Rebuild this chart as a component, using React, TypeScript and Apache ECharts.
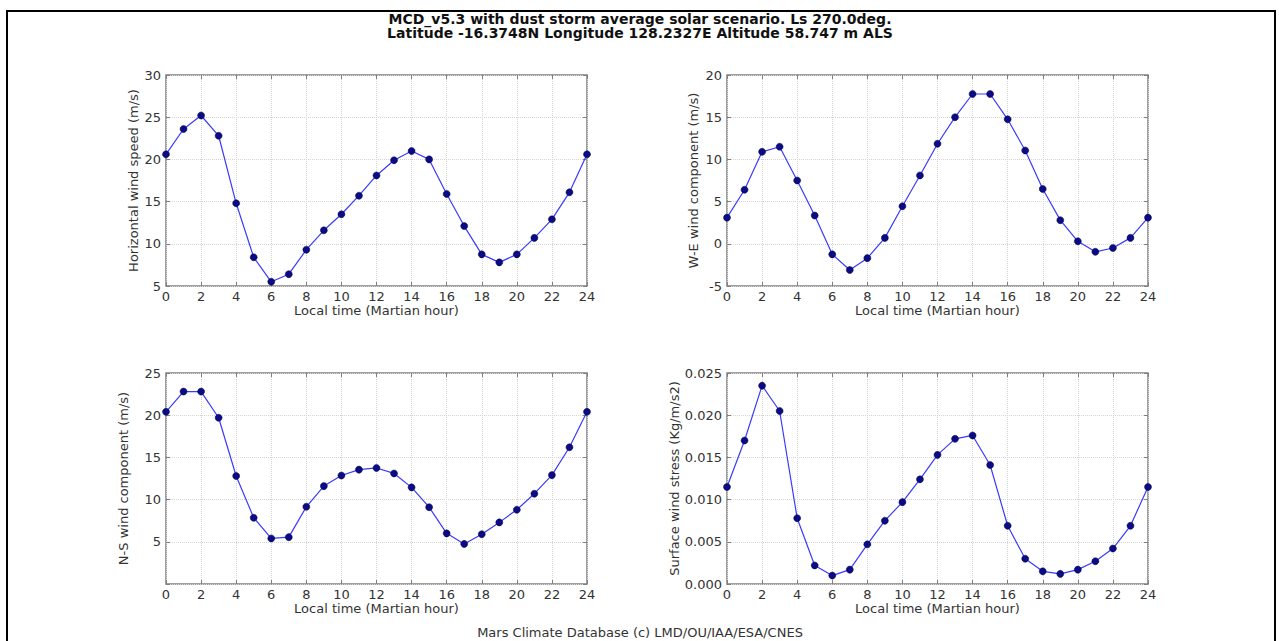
import React, { useEffect, useRef } from "react";
import * as echarts from "echarts";

const hours = [0, 1, 2, 3, 4, 5, 6, 7, 8, 9, 10, 11, 12, 13, 14, 15, 16, 17, 18, 19, 20, 21, 22, 23, 24];
const horizontalSpeed = [20.6, 23.6, 25.2, 22.8, 14.8, 8.4, 5.5, 6.4, 9.3, 11.6, 13.5, 15.7, 18.1, 19.9, 21.0, 20.0, 15.9, 12.1, 8.75, 7.8, 8.75, 10.7, 12.9, 16.1, 20.6];
const weComponent = [3.1, 6.4, 10.9, 11.5, 7.5, 3.35, -1.25, -3.1, -1.7, 0.7, 4.45, 8.1, 11.85, 15.0, 17.75, 17.75, 14.75, 11.05, 6.5, 2.8, 0.3, -0.95, -0.5, 0.7, 3.1];
const nsComponent = [20.4, 22.8, 22.8, 19.7, 12.8, 7.85, 5.4, 5.55, 9.15, 11.6, 12.85, 13.55, 13.75, 13.1, 11.45, 9.1, 6.0, 4.75, 5.9, 7.3, 8.8, 10.7, 12.9, 16.2, 20.4];
const surfaceStress = [0.0115, 0.0170, 0.0235, 0.0205, 0.0078, 0.0022, 0.0010, 0.0017, 0.0047, 0.0075, 0.0097, 0.0124, 0.0153, 0.0172, 0.0176, 0.0141, 0.0069, 0.0030, 0.0015, 0.0012, 0.0017, 0.0027, 0.0042, 0.0069, 0.0115];

const titleLines = [
  "MCD_v5.3 with dust storm average solar scenario. Ls 270.0deg.",
  "Latitude -16.3748N Longitude 128.2327E Altitude 58.747 m ALS",
];
const footerText = "Mars Climate Database (c) LMD/OU/IAA/ESA/CNES";
const xAxisName = "Local time (Martian hour)";
const yAxisNames = [
  "Horizontal wind speed (m/s)",
  "W-E wind component (m/s)",
  "N-S wind component (m/s)",
  "Surface wind stress (Kg/m/s2)",
];

const FONT = "DejaVu Sans";
const FS = 13;
const TEXT_COLOR = "#333";
const FRAME = "#808080";
const GRID_LINE = "#d4d4d4";

const panels = [
  { values: horizontalSpeed, min: 5, max: 30, interval: 5, left: 166, top: 75, nameGap: 26, hideZero: false, decimals: 0 },
  { values: weComponent, min: -5, max: 20, interval: 5, left: 727, top: 75, nameGap: 27, hideZero: false, decimals: 0 },
  { values: nsComponent, min: 0, max: 25, interval: 5, left: 166, top: 373, nameGap: 36, hideZero: true, decimals: 0 },
  { values: surfaceStress, min: 0, max: 0.025, interval: 0.005, left: 727, top: 373, nameGap: 46, hideZero: false, decimals: 3 },
];

export default function App() {
  const ref = useRef<HTMLDivElement>(null);

  useEffect(() => {
    if (!ref.current) return;
    const chart = echarts.init(ref.current, null, { renderer: "svg" });

    const grids: any[] = [];
    const xAxes: any[] = [];
    const yAxes: any[] = [];
    const series: any[] = [];
    const tick = { show: true, inside: true, length: 4, lineStyle: { color: FRAME } };

    panels.forEach((p, i) => {
      grids.push({
        left: p.left,
        top: p.top,
        width: 421,
        height: 211,
        show: true,
        borderColor: FRAME,
        borderWidth: 1.5,
        backgroundColor: "#fff",
      });
      xAxes.push({
        type: "value",
        gridIndex: i,
        position: "bottom",
        min: 0,
        max: 24,
        interval: 2,
        name: xAxisName,
        nameLocation: "middle",
        nameGap: 17,
        nameTextStyle: { fontFamily: FONT, fontSize: FS, color: TEXT_COLOR },
        axisLine: { show: false, onZero: false },
        axisTick: tick,
        axisLabel: { fontFamily: FONT, fontSize: FS, color: TEXT_COLOR, margin: 4 },
        splitLine: { show: true, lineStyle: { color: GRID_LINE, type: "dotted", width: 1 } },
      });
      xAxes.push({
        type: "value",
        gridIndex: i,
        position: "top",
        min: 0,
        max: 24,
        interval: 2,
        axisLine: { show: false, onZero: false },
        axisTick: tick,
        axisLabel: { show: false },
        splitLine: { show: false },
      });
      yAxes.push({
        type: "value",
        gridIndex: i,
        position: "left",
        min: p.min,
        max: p.max,
        interval: p.interval,
        name: yAxisNames[i],
        nameLocation: "middle",
        nameGap: p.nameGap,
        nameTextStyle: { fontFamily: FONT, fontSize: FS, color: TEXT_COLOR },
        axisLine: { show: false, onZero: false },
        axisTick: tick,
        axisLabel: {
          fontFamily: FONT,
          fontSize: FS,
          color: TEXT_COLOR,
          margin: 5,
          formatter: (v: number) => {
            if (p.hideZero && Math.abs(v) < 1e-9) return "";
            return p.decimals > 0 ? v.toFixed(p.decimals) : String(Math.round(v));
          },
        },
        splitLine: { show: true, lineStyle: { color: GRID_LINE, type: "dotted", width: 1 } },
      });
      yAxes.push({
        type: "value",
        gridIndex: i,
        position: "right",
        min: p.min,
        max: p.max,
        interval: p.interval,
        axisLine: { show: false, onZero: false },
        axisTick: tick,
        axisLabel: { show: false },
        splitLine: { show: false },
      });
      series.push({
        type: "line",
        xAxisIndex: i * 2,
        yAxisIndex: i * 2,
        data: hours.map((h, k) => [h, p.values[k]]),
        symbol: "circle",
        symbolSize: 7,
        clip: true,
        lineStyle: { color: "#3a3aff", width: 1.2 },
        itemStyle: { color: "#0b0b85", borderColor: "#000040", borderWidth: 0.5 },
        z: 3,
      });
    });

    chart.setOption({
      animation: false,
      backgroundColor: "#fff",
      grid: grids,
      xAxis: xAxes,
      yAxis: yAxes,
      series,
      graphic: [
        {
          type: "rect",
          shape: { x: 7, y: 11, width: 1268, height: 700 },
          style: { fill: "none", stroke: "#000", lineWidth: 2 },
          silent: true,
        },
        {
          type: "text",
          x: 640,
          y: 19,
          style: {
            text: titleLines[0],
            fontFamily: FONT,
            fontSize: 14,
            fontWeight: "bold",
            fill: "#111",
            align: "center",
            verticalAlign: "middle",
          },
        },
        {
          type: "text",
          x: 640,
          y: 33,
          style: {
            text: titleLines[1],
            fontFamily: FONT,
            fontSize: 14,
            fontWeight: "bold",
            fill: "#111",
            align: "center",
            verticalAlign: "middle",
          },
        },
        {
          type: "text",
          x: 640,
          y: 632,
          style: {
            text: footerText,
            fontFamily: FONT,
            fontSize: 13,
            fill: TEXT_COLOR,
            align: "center",
            verticalAlign: "middle",
          },
        },
      ],
    });

    return () => chart.dispose();
  }, []);

  return (
    <div
      ref={ref}
      style={{ position: "absolute", left: 0, top: 0, width: 1279, height: 641 }}
    />
  );
}
